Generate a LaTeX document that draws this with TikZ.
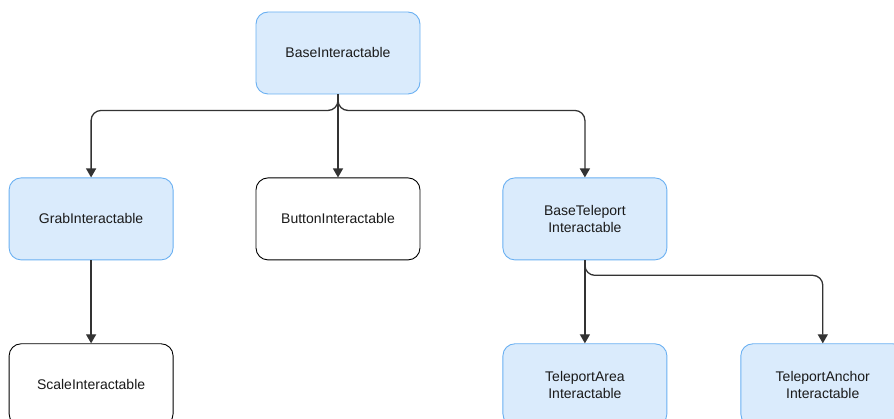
\documentclass[tikz,border=0pt]{standalone}
\usepackage{fontspec}
\setmainfont{Liberation Sans}
\usetikzlibrary{arrows.meta, positioning}
\definecolor{boxblue}{HTML}{DAEBFC}
\definecolor{edgeblue}{HTML}{6AB0F2}
\definecolor{textgray}{HTML}{1A1A1A}
\definecolor{linegray}{HTML}{333333}

\begin{document}
\begin{tikzpicture}[
          x=1pt, y=1pt,
          node distance=83pt and 82pt,
          every node/.style={rounded corners=12pt, minimum width=164pt, minimum height=82pt,
            inner sep=0pt, align=center, text=textgray,
            font=\fontsize{14pt}{17.5pt}\selectfont},
          bluebox/.style={draw=edgeblue, fill=boxblue, line width=0.9pt},
          whitebox/.style={draw=black, fill=white, line width=0.9pt},
          link/.style={-{Triangle[length=9pt,width=10pt]}, draw=linegray,
            line width=1.3pt, rounded corners=10pt},
          >=Stealth
        ]
        \useasboundingbox (0,0) rectangle (894,-419);
        \node [bluebox] (base) at (338,-53) {BaseInteractable};
        \node [whitebox, below=of base] (button) {ButtonInteractable};
        \node [bluebox, left=of button] (grab) {GrabInteractable};
        \node [bluebox, right=of button] (teleport) {BaseTeleport\\Interactable};
        \node [whitebox, below=of grab] (scale) {ScaleInteractable};
        \node [bluebox, below=of teleport] (area) {TeleportArea\\Interactable};
        \node [bluebox, right=73pt of area] (anchor) {TeleportAnchor\\Interactable};

        \draw [link] (base.south) -- ++(0,-16) -| (grab.north);
        \draw [link] (base.south) -- (button.north);
        \draw [link] (base.south) -- ++(0,-16) -| (teleport.north);
        \draw [link] (grab.south) -- (scale.north);
        \draw [link] (teleport.south) -- (area.north);
        \draw [link] (teleport.south) -- ++(0,-15) -| (anchor.north);
\end{tikzpicture}
\end{document}
